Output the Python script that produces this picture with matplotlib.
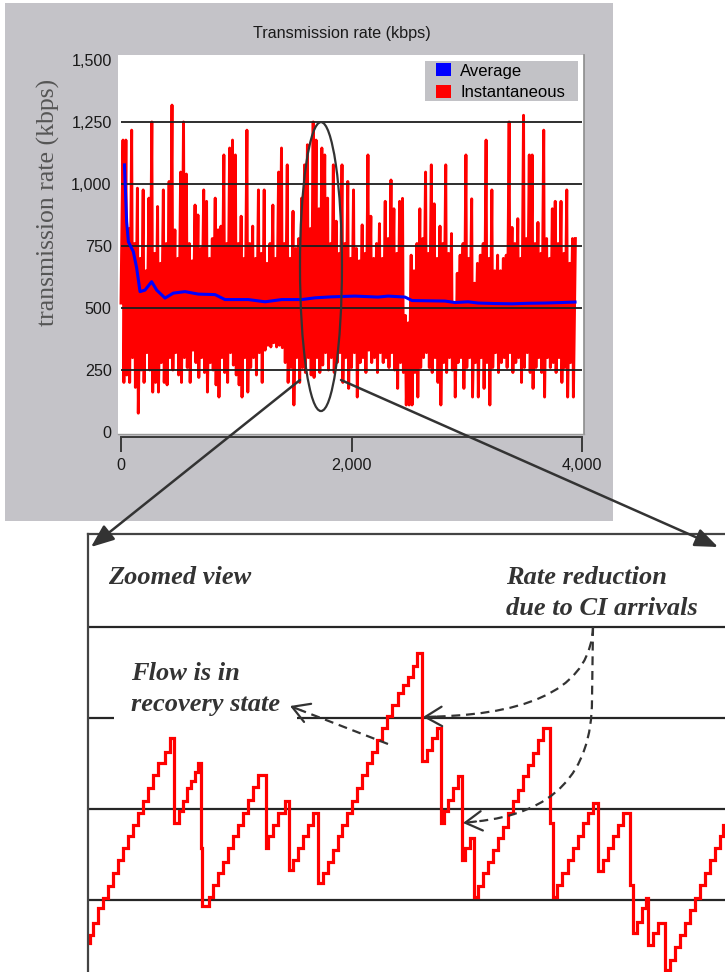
import numpy as np
import matplotlib
matplotlib.use("Agg")
import matplotlib.pyplot as plt
from matplotlib.patches import Rectangle, Ellipse, Patch, PathPatch
from matplotlib.path import Path
from matplotlib.ticker import FuncFormatter

SANS = ["Liberation Sans", "DejaVu Sans"]
SERIF = ["Liberation Serif", "DejaVu Serif"]

# ---------------- whole run: instantaneous and average rate ----------------
inst_step = 25  # seconds between successive rate cycles
inst_peak = [
    1177, 1177, 820, 1217, 760, 983, 700, 976, 650, 943,
    1250, 720, 909, 680, 976, 760, 1010, 1318, 815, 700,
    1048, 1250, 1040, 760, 690, 915, 875, 740, 976, 930,
    700, 780, 943, 815, 830, 1117, 760, 1145, 1177, 1117,
    760, 870, 700, 1217, 760, 830, 700, 976, 720, 976,
    680, 760, 915, 700, 1048, 1145, 760, 1077, 700, 890,
    740, 780, 943, 1077, 1158, 820, 1250, 1177, 900, 1145,
    1117, 943, 760, 1077, 850, 720, 1077, 760, 1010, 700,
    976, 740, 690, 835, 720, 1117, 870, 700, 760, 840,
    700, 930, 780, 1016, 900, 720, 930, 942, 470, 440,
    713, 650, 760, 900, 780, 1048, 720, 1077, 920, 700,
    830, 760, 1077, 720, 800, 520, 640, 713, 760, 1117,
    700, 940, 600, 680, 713, 760, 1177, 700, 976, 650,
    713, 650, 700, 713, 1250, 825, 760, 860, 700, 1277,
    780, 1117, 1117, 760, 845, 720, 1217, 780, 700, 900,
    930, 760, 930, 720, 976, 680, 780, 780,
]
inst_trough = [
    520, 200, 230, 200, 300, 180, 76, 250, 200, 320,
    250, 161, 200, 161, 280, 200, 190, 300, 250, 320,
    230, 200, 300, 260, 200, 330, 280, 220, 300, 240,
    161, 280, 250, 190, 141, 300, 240, 200, 320, 270,
    230, 190, 141, 300, 161, 260, 300, 230, 320, 200,
    330, 350, 343, 360, 343, 350, 340, 280, 200, 260,
    109, 300, 200, 260, 240, 300, 230, 220, 300, 240,
    270, 320, 250, 300, 240, 280, 320, 200, 300, 176,
    260, 320, 141, 280, 300, 240, 330, 280, 300, 240,
    320, 280, 300, 260, 320, 250, 176, 280, 240, 109,
    109, 109, 240, 141, 260, 300, 320, 260, 240, 300,
    200, 109, 280, 240, 300, 250, 141, 280, 300, 176,
    260, 300, 141, 280, 141, 300, 176, 280, 109, 260,
    320, 240, 280, 300, 260, 320, 240, 280, 300, 200,
    260, 320, 240, 176, 260, 300, 240, 141, 300, 260,
    280, 240, 300, 200, 260, 141, 280, 141,
]
avg_time = [30, 49, 64, 107, 136, 165, 208, 266, 310, 382, 454, 555, 671, 816,
            902, 1105, 1250, 1394, 1568, 1683, 1828, 2030, 2230, 2317, 2464,
            2525, 2811, 2898, 3011, 3098, 3245, 3393, 3532, 3679, 3827, 3939]
avg_rate = [1077, 848, 767, 727, 661, 566, 572, 606, 572, 540, 560, 566, 556, 554,
            534, 534, 525, 534, 534, 541, 545, 548, 544, 548, 544,
            530, 528, 522, 525, 520, 518, 517, 519, 520, 522, 524]
y_ticks = [0, 250, 500, 750, 1000, 1250, 1500]
x_ticks = [0, 2000, 4000]
grid_levels = [250, 500, 750, 1000, 1250]
series_names = ["Average", "Instantaneous"]

# ---------------- zoomed window: stepwise rate trace ----------------
zoom_time = [0, 2, 5.3, 10.3, 15.3, 20.3, 25.3, 29.7, 35.3, 40.3, 45.3, 50.3, 55.3,
             60.3, 65.3, 70.3, 77, 82,
             86.3, 91, 95.3, 98.7, 103, 107, 110.3,
             112.7, 113.5, 121, 125.3, 130.3, 135.3, 139.7, 145.3, 150.3, 155.3,
             160, 165.3, 170.3,
             177.7, 180.3, 185.3, 190.3, 197,
             201.3, 205.3, 210.3, 215.3, 220.3, 225.3,
             229.7, 235.3, 240.3, 245.3, 250.3, 254.3, 258.7, 263.7, 268.7, 273.7,
             278.7, 283.7, 288.7, 293.7, 298.7, 303.7, 309.5, 315, 320.3, 325.3, 328.7,
             333.7, 338.7, 343.7, 348.7,
             353, 356.3, 360.3, 365.3, 370.3,
             373.7, 377, 382,
             386.3, 390.3, 395.3, 400.3, 405.3, 410.3, 415.3, 420.3, 425.3, 430.3,
             435.3, 440.3, 445.3, 450.3, 455.3,
             462, 465, 468.7, 474, 480.3, 485.3, 490.3, 495.3, 500.3, 505.3,
             510.3, 515.3, 520.3, 525.3, 530.3, 535.3,
             542, 545.3, 548.7, 553.7, 557.5,
             560.3, 565.3, 570.3,
             577, 582, 587, 592, 597, 602, 607, 612, 617, 622, 627, 632, 635.3, 640]
zoom_rate = [131, 154, 186, 227, 255, 287, 323, 360, 392, 424, 456, 488, 520,
             557, 593, 625, 657, 694,
             461, 493, 520, 557, 575, 600, 625,
             392, 232, 259, 291, 323, 355, 392, 424, 456, 488,
             525, 561, 593,
             392, 424, 456, 488, 520,
             332, 360, 392, 424, 456, 488,
             296, 323, 355, 387, 424, 456, 488, 520, 557, 593,
             625, 657, 690, 722, 754, 786, 818, 840, 862, 893, 928,
             630, 662, 694, 722,
             461, 493, 525, 557, 589,
             360, 392, 419,
             259, 287, 323, 355, 387, 419, 451, 488, 520, 552,
             589, 621, 653, 690, 722,
             461, 259, 291, 323, 360, 392, 424, 461, 488, 516,
             328, 360, 392, 424, 456, 488,
             291, 158, 190, 227, 255,
             126, 158, 186,
             58, 85, 122, 154, 186, 222, 255, 291, 323, 360, 392, 424, 456, 488]
zoom_levels = [250, 500, 750, 1000]

# ---------------- figure ----------------
W, H = 725, 972
fig = plt.figure(figsize=(W / 100, H / 100), dpi=100)
fig.patch.set_facecolor("white")


def box(left, top, right, bottom):
    """Pixel rectangle (origin top-left) -> figure fraction [l, b, w, h]."""
    return [left / W, 1 - bottom / H, (right - left) / W, (bottom - top) / H]


# grey window behind the upper chart
fig.add_artist(Rectangle((5 / W, 1 - 521 / H), 608 / W, 518 / H,
                         transform=fig.transFigure, facecolor="#c4c3c8",
                         edgecolor="none", zorder=-2))

# ---- upper chart ----
ax = fig.add_axes(box(118, 55, 584, 434))
ax.set_facecolor("white")
ax.set_xlim(-26, 4017)
ax.set_ylim(-8, 1520)

n = len(inst_peak)
t0 = np.arange(n) * inst_step
xs = np.empty(2 * n)
ys = np.empty(2 * n)
xs[0::2] = t0
xs[1::2] = t0 + 0.7 * inst_step
ys[0::2] = inst_trough
ys[1::2] = inst_peak
ax.plot(xs, ys, color="#ff0000", lw=2.1, zorder=2)
ax.hlines(grid_levels, 0, 4000, color="#1e1e1e", lw=1.3, zorder=3)
ax.plot(avg_time, avg_rate, color="#0000ff", lw=2.2, zorder=4)

ax.add_patch(Ellipse((1735, 667), 364, 1165, fill=False, edgecolor="#333333",
                     lw=1.6, zorder=5, clip_on=False))

for s in ("top", "left"):
    ax.spines[s].set_visible(False)
ax.spines["right"].set_color("#8c8c8c")
ax.spines["right"].set_linewidth(1.2)
ax.spines["bottom"].set_position(("outward", 2.2))
ax.spines["bottom"].set_bounds(0, 4000)
ax.spines["bottom"].set_color("#3a3a3a")
ax.spines["bottom"].set_linewidth(1.4)
ax.plot([0, 1], [0, 0], transform=ax.transAxes, color="#9a9a9a", lw=1.0,
        clip_on=False, zorder=5)

fmt = FuncFormatter(lambda v, p: f"{v:,.0f}")
ax.set_xticks(x_ticks)
ax.set_yticks(y_ticks)
ax.xaxis.set_major_formatter(fmt)
ax.yaxis.set_major_formatter(fmt)
ax.tick_params(axis="y", length=0, pad=4.5, labelsize=11.6, labelcolor="#1a1a1a")
ax.tick_params(axis="x", length=10.8, width=1.4, color="#3a3a3a", pad=4.5,
               labelsize=11.6, labelcolor="#1a1a1a", direction="out")
for lab in ax.get_xticklabels() + ax.get_yticklabels():
    lab.set_family(SANS)

ax.set_title("Transmission rate (kbps)", fontsize=11.6, family=SANS,
             color="#1a1a1a", pad=12)
ax.title.set_x((342 - 118) / 466)
ax.set_ylabel("transmission rate (kbps)", family=SERIF, fontsize=18.5,
              color="#555555", va="center")
ax.yaxis.set_label_coords((48 - 118) / 466, (434 - 202) / 379)

# legend on a grey plate
ax.add_patch(Rectangle((425 / W, 1 - 101 / H), 153 / W, 40 / H,
                       transform=fig.transFigure, facecolor="#c2c2c6",
                       edgecolor="none", zorder=6, clip_on=False))
handles = [Patch(facecolor="#0000ff", edgecolor="none", label=series_names[0]),
           Patch(facecolor="#ff0000", edgecolor="none", label=series_names[1])]
leg = ax.legend(handles=handles, loc="upper left",
                bbox_to_anchor=(436 / W, 1 - 63.5 / H),
                bbox_transform=fig.transFigure, borderaxespad=0, borderpad=0,
                frameon=False, prop=dict(family=SANS, size=12),
                handlelength=0.9, handleheight=0.8, handletextpad=0.55,
                labelspacing=0.38)
leg.set_zorder(7)

# ---- zoomed window ----
axz = fig.add_axes(box(88, 534, 735, 991))
axz.set_xlim(0, 647)
axz.set_ylim(0, 1254)
axz.set_xticks([])
axz.set_yticks([])
for s in ("right", "bottom"):
    axz.spines[s].set_visible(False)
for s in ("top", "left"):
    axz.spines[s].set_color("#444444")
    axz.spines[s].set_linewidth(1.6)
axz.hlines(zoom_levels, 0, 647, color="#262626", lw=1.6, zorder=1)
axz.plot(zoom_time, zoom_rate, drawstyle="steps-post", color="#ff0000",
         lw=2.3, zorder=2, solid_joinstyle="miter")

# ---- annotation layer in pixel coordinates ----
ov = fig.add_axes([0, 0, 1, 1], zorder=10)
ov.set_xlim(0, W)
ov.set_ylim(H, 0)
ov.axis("off")

ink = "#333333"
link = dict(arrowstyle="-|>,head_length=0.7,head_width=0.28", mutation_scale=20,
            lw=1.8, color=ink, shrinkA=0, shrinkB=0)
ov.annotate("", xy=(91, 547), xytext=(300, 380), arrowprops=link)
ov.annotate("", xy=(718, 547), xytext=(341, 380), arrowprops=link)

note_font = dict(family=SERIF, fontsize=19, fontweight="bold",
                 fontstyle="italic", color="#333333")
ov.text(108, 577, "Zoomed view", ha="left", va="center", **note_font)
ov.text(506, 593, "Rate reduction\ndue to CI arrivals", ha="left", va="center",
        linespacing=1.4, **note_font)
ov.text(131, 689, "Flow is in\nrecovery state", ha="left", va="center",
        linespacing=1.45, zorder=3,
        bbox=dict(boxstyle="square,pad=0.65", facecolor="white", edgecolor="none"),
        **note_font)

dash = dict(fill=False, edgecolor=ink, lw=1.6, linestyle=(0, (4, 2.6)),
            capstyle="butt", zorder=4)
ov.add_patch(PathPatch(Path([(593, 627), (590, 712), (436, 716.6)],
                            [Path.MOVETO, Path.CURVE3, Path.CURVE3]), **dash))
ov.add_patch(PathPatch(Path([(593, 627), (592, 700), (592, 810), (476, 821.5)],
                            [Path.MOVETO, Path.LINETO, Path.CURVE3, Path.CURVE3]),
                       **dash))
ov.add_patch(PathPatch(Path([(388, 744), (301, 710.3)],
                            [Path.MOVETO, Path.LINETO]), **dash))

head = dict(arrowstyle="->,head_length=0.6,head_width=0.35", mutation_scale=20,
            lw=1.6, color=ink, shrinkA=0, shrinkB=0)
ov.annotate("", xy=(423, 717), xytext=(436, 716.6), arrowprops=head, zorder=5)
ov.annotate("", xy=(463, 823), xytext=(476, 821.5), arrowprops=head, zorder=5)
ov.annotate("", xy=(290, 706), xytext=(301, 710.3), arrowprops=head, zorder=5)

fig.savefig("out.png", dpi=100)
